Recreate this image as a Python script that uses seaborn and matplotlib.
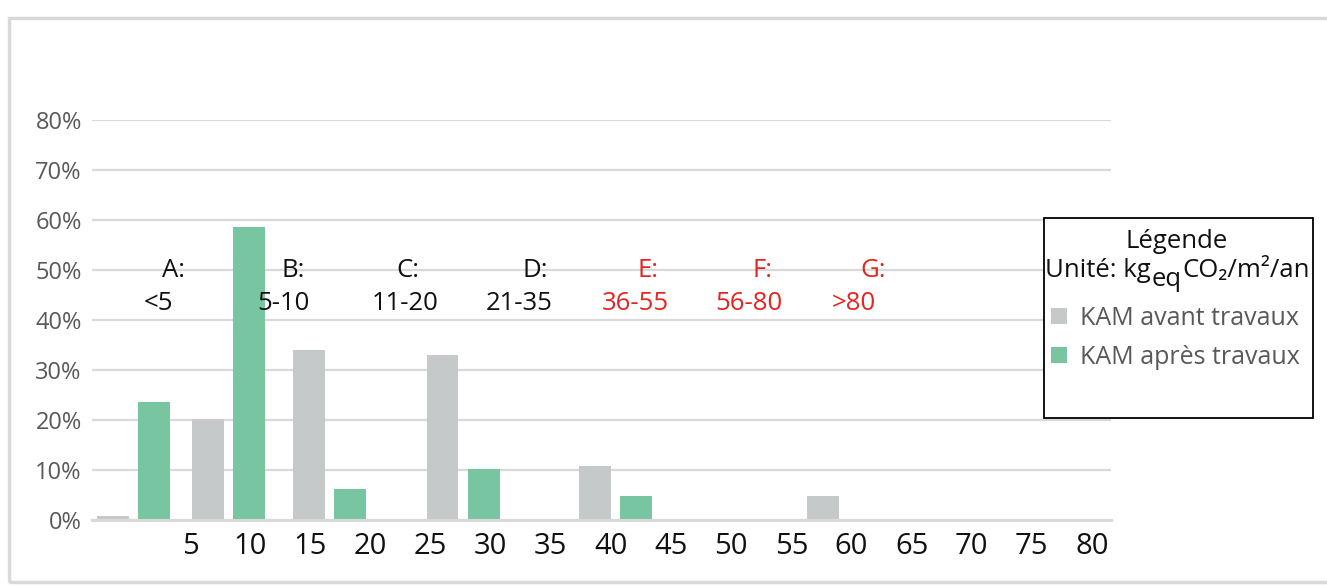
import numpy as np
import pandas as pd
import matplotlib
matplotlib.use("Agg")
import matplotlib.pyplot as plt
from matplotlib.patches import Rectangle
from matplotlib.lines import Line2D
from matplotlib.transforms import IdentityTransform
import seaborn as sns

# Share of buildings per emission band, before / after renovation (%)
series = ["KAM avant travaux", "KAM après travaux"]
group_x = [0.3, 8.2, 16.6, 27.7, 40.4, 59.3]
avant = [0.8, 20.2, 34.1, 33.0, 10.8, 4.9]
apres = [23.6, 58.6, 6.3, 10.3, 4.9, 0.0]

# Emission classes written over the plot
class_letters = ["A:", "B:", "C:", "D:", "E:", "F:", "G:"]
class_ranges = ["<5", "5-10", "11-20", "21-35", "36-55", "56-80", ">80"]
class_letter_x = [3.6, 13.6, 23.1, 33.7, 43.1, 52.6, 61.8]
class_range_x = [2.4, 12.8, 22.9, 32.4, 42.0, 51.5, 60.2]
class_alert = [False, False, False, False, True, True, True]

x_ticks = list(range(5, 85, 5))
y_ticks = list(range(0, 90, 10))

GREY = "#c5c9c9"
GREEN = "#78c5a1"
RED = "#e52421"
GRID = "#d9d9d9"
TXT = "#595959"
INK = "#111111"

sns.set_theme(style="white")
plt.rcParams["font.family"] = ["Open Sans", "DejaVu Sans"]

fig = plt.figure(figsize=(13.27, 5.86), dpi=100)
ax = fig.add_axes([91.5 / 1327, 1 - 520 / 586, (1111 - 91.5) / 1327, 400 / 586])

df = pd.DataFrame({
    "x": group_x * 2,
    "share": avant + apres,
    "serie": [series[0]] * len(avant) + [series[1]] * len(apres),
})
native = np.diff(np.unique(group_x)).min()
sns.barplot(data=df, x="x", y="share", hue="serie", hue_order=series,
            palette=[GREY, GREEN], saturation=1, native_scale=True,
            width=6.82 / native, gap=0.22, errorbar=None, linewidth=0,
            legend=False, ax=ax)

ax.set_xlim(-3.19, 81.58)
ax.set_ylim(0, 80)
ax.set_xticks(x_ticks)
ax.set_xticklabels([str(t) for t in x_ticks], fontsize=21, color=INK)
ax.set_yticks(y_ticks)
ax.set_yticklabels([f"{t}%" for t in y_ticks], fontsize=17, color=TXT)
ax.tick_params(axis="x", length=0, pad=9)
ax.tick_params(axis="y", length=0, pad=7)
ax.set_xlabel("")
ax.set_ylabel("")
ax.yaxis.grid(True, color=GRID, linewidth=1.6)
ax.xaxis.grid(False)
ax.set_axisbelow(True)
for side in ["left", "right", "top"]:
    ax.spines[side].set_visible(False)
ax.spines["bottom"].set_color(GRID)
ax.spines["bottom"].set_linewidth(2.2)
ax.spines["bottom"].set_zorder(3)

for letter, rng, lx, rx, alert in zip(class_letters, class_ranges,
                                      class_letter_x, class_range_x, class_alert):
    col = RED if alert else INK
    ax.text(lx, 48.6, letter, ha="center", va="baseline", fontsize=18.5, color=col, zorder=4)
    ax.text(rx, 42.0, rng, ha="center", va="baseline", fontsize=18.5, color=col, zorder=4)

# Outer frame
fig.patches.append(Rectangle((9 / 1327, 1 - 582 / 586), 1.1, (582 - 18) / 586,
                             transform=fig.transFigure, fill=False,
                             edgecolor=GRID, linewidth=2.5, zorder=0))

# Legend box
fig.patches.append(Rectangle((1044 / 1327, 1 - 418 / 586), (1313 - 1044) / 1327, 200 / 586,
                             transform=fig.transFigure, facecolor="white",
                             edgecolor="black", linewidth=1.3, zorder=5))
fig.text(1177 / 1327, 1 - 248 / 586, "Légende", ha="center", va="baseline",
         fontsize=18.5, color=INK, zorder=6)

# Unit line: "kg" with a lowered "eq" followed by the rest of the unit
t1 = fig.text(1045 / 1327, 1 - 277 / 586, "Unité: kg", ha="left", va="baseline",
              fontsize=18.5, color=INK, zorder=6)
fig.canvas.draw()
r = fig.canvas.get_renderer()
base_y = t1.get_transform().transform(t1.get_position())[1]
bb1 = t1.get_window_extent(r)
t2 = fig.text(bb1.x1 + 1, base_y - 9, "eq", fontsize=18.5, color=INK, zorder=6,
              ha="left", va="baseline", transform=IdentityTransform())
bb2 = t2.get_window_extent(r)
fig.text(bb2.x1, base_y, "CO₂/m²/an", fontsize=18.5, color=INK, zorder=6,
         ha="left", va="baseline", transform=IdentityTransform())

handles = [Line2D([], [], linestyle="none", marker="s", markersize=12,
                  markerfacecolor=c, markeredgewidth=0) for c in (GREY, GREEN)]
leg = fig.legend(handles, series, loc="upper left",
                 bbox_to_anchor=(1046 / 1327, 1 - 306 / 586), frameon=False,
                 fontsize=18, handlelength=1.0, handletextpad=0.35,
                 labelspacing=0.55, borderpad=0, borderaxespad=0)
for t in leg.get_texts():
    t.set_color(TXT)
leg.set_zorder(6)

fig.savefig("out.png", dpi=100, facecolor="white")
